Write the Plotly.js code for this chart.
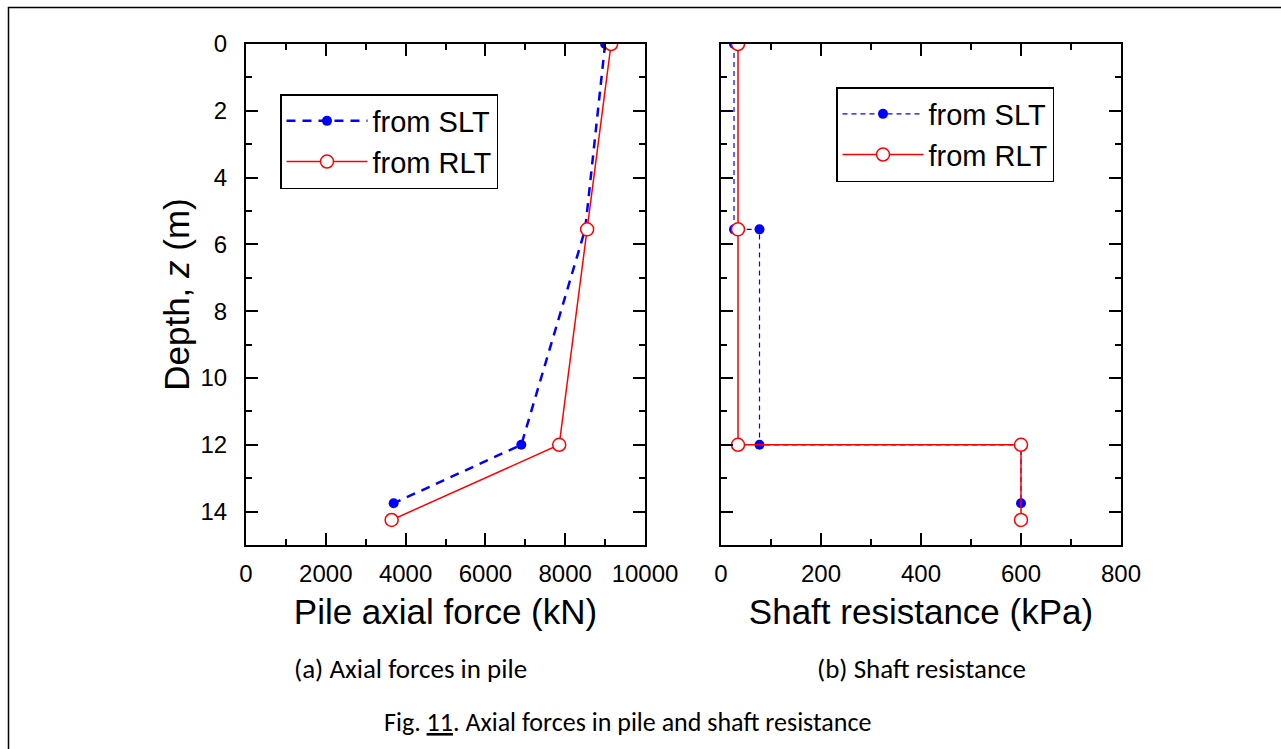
<!DOCTYPE html>
<html>
<head>
<meta charset="utf-8">
<script src="https://cdn.plot.ly/plotly-3.0.1.min.js"></script>
<style>
html,body{margin:0;padding:0;background:#fff;}
#chart{width:1281px;height:749px;}
</style>
</head>
<body>
<div id="chart"></div>
<script>
// ---- Data ----
// (a) Pile axial force vs depth
const slt_force_depth = [0, 5.55, 12, 13.75];
const slt_force = [9000, 8500, 6900, 3700];
const rlt_force_depth = [0, 5.55, 12, 14.25];
const rlt_force = [9150, 8550, 7850, 3650];

// (b) Shaft resistance vs depth (step profile corners)
const slt_shaft_depth = [0, 5.55, 5.55, 12, 12, 13.75];
const slt_shaft = [26, 26, 77, 77, 600, 600];
const rlt_shaft_depth = [0, 5.55, 12, 12, 14.25];
const rlt_shaft = [34, 34, 34, 600, 600];

const seriesNames = ['from SLT', 'from RLT'];
const depthTicks = [0, 2, 4, 6, 8, 10, 12, 14];
const forceTicks = [0, 2000, 4000, 6000, 8000, 10000];
const shaftTicks = [0, 200, 400, 600, 800];

// ---- Styling ----
const FONT = 'Arial, "Liberation Sans", sans-serif';
const CAP_FONT = 'Carlito, Lato, sans-serif';
const BLUE = '#0000ff';
const RED = '#ff0000';

const traces = [
  {x: slt_force, y: slt_force_depth, xaxis: 'x', yaxis: 'y', name: seriesNames[0],
   mode: 'lines+markers', line: {color: BLUE, width: 2.5, dash: '9px,7px'},
   marker: {color: BLUE, size: 10, symbol: 'circle'}, legend: 'legend'},
  {x: rlt_force, y: rlt_force_depth, xaxis: 'x', yaxis: 'y', name: seriesNames[1],
   mode: 'lines+markers', line: {color: RED, width: 1.5},
   marker: {color: '#ffffff', size: 13, symbol: 'circle', line: {color: RED, width: 1.5}}, legend: 'legend'},
  {x: slt_shaft, y: slt_shaft_depth, xaxis: 'x2', yaxis: 'y2', name: seriesNames[0],
   mode: 'lines+markers', line: {color: BLUE, width: 1.2, dash: '5px,4px'},
   marker: {color: BLUE, size: 10, symbol: 'circle'}, legend: 'legend2'},
  {x: rlt_shaft, y: rlt_shaft_depth, xaxis: 'x2', yaxis: 'y2', name: seriesNames[1],
   mode: 'lines+markers', line: {color: RED, width: 1.5},
   marker: {color: '#ffffff', size: 13, symbol: 'circle', line: {color: RED, width: 1.5}}, legend: 'legend2'}
];

const axBase = {
  showline: true, linecolor: '#000', linewidth: 2, mirror: 'ticks',
  ticks: 'inside', ticklen: 12, tickwidth: 2, tickcolor: '#000',
  showgrid: false, zeroline: false,
  tickfont: {family: FONT, size: 24, color: '#000'},
  tickformat: 'd'
};
const minorX = {ticks: 'inside', ticklen: 6, tickwidth: 2, tickcolor: '#000', showgrid: false};

const L = 246, R = 160, T = 44, B = 204, W = 1281, H = 749;
const pw = W - L - R, ph = H - T - B;
const px = v => (v - L) / pw;
const py = v => (H - B - v) / ph;

const titleFont = {family: FONT, size: 35, color: '#000'};
const legFont = {family: FONT, size: 29, color: '#000'};

const layout = {
  width: W, height: H,
  margin: {l: L, r: R, t: T, b: B},
  paper_bgcolor: '#fff', plot_bgcolor: '#fff',
  font: {family: FONT, color: '#000'},
  xaxis: Object.assign({}, axBase, {
    domain: [0, px(645)], anchor: 'y', range: [0, 10000],
    tickvals: forceTicks, ticklabelstandoff: 6,
    minor: Object.assign({dtick: 1000, tick0: 0}, minorX),
    title: {text: 'Pile axial force (kN)', font: titleFont, standoff: 14}
  }),
  yaxis: Object.assign({}, axBase, {
    domain: [0, 1], anchor: 'x', range: [15, 0],
    tickvals: depthTicks, ticklabelstandoff: 12,
    minor: Object.assign({dtick: 1, tick0: 0}, minorX),
    title: {text: 'Depth, <i>z</i> (m)\u00A0\u00A0\u00A0', font: titleFont, standoff: 0}
  }),
  xaxis2: Object.assign({}, axBase, {
    domain: [px(721), px(1121)], anchor: 'y2', range: [0, 800],
    tickvals: shaftTicks, ticklabelstandoff: 6,
    minor: Object.assign({dtick: 100, tick0: 0}, minorX),
    title: {text: 'Shaft resistance (kPa)', font: titleFont, standoff: 14}
  }),
  yaxis2: Object.assign({}, axBase, {
    domain: [0, 1], anchor: 'x2', range: [15, 0],
    tickvals: depthTicks, showticklabels: false,
    minor: Object.assign({dtick: 1, tick0: 0}, minorX)
  }),
  legend: {
    x: px(280), y: py(94), xanchor: 'left', yanchor: 'top',
    bgcolor: '#fff', bordercolor: '#000', borderwidth: 1.5,
    font: legFont, itemwidth: 81, tracegroupgap: 0
  },
  legend2: {
    x: px(836), y: py(87), xanchor: 'left', yanchor: 'top',
    bgcolor: '#fff', bordercolor: '#000', borderwidth: 1.5,
    font: legFont, itemwidth: 81, tracegroupgap: 0
  },
  showlegend: true,
  annotations: [
    {text: '(a) Axial forces in pile', xref: 'paper', yref: 'paper', x: px(410), y: py(668),
     xanchor: 'center', yanchor: 'middle', showarrow: false,
     font: {family: CAP_FONT, size: 27, color: '#000'}},
    {text: '(b) Shaft resistance', xref: 'paper', yref: 'paper', x: px(921), y: py(668),
     xanchor: 'center', yanchor: 'middle', showarrow: false,
     font: {family: CAP_FONT, size: 27, color: '#000'}},
    {text: 'Fig. <u>11</u>. Axial forces in pile and shaft resistance', xref: 'paper', yref: 'paper',
     x: px(627), y: py(722), xanchor: 'center', yanchor: 'middle', showarrow: false,
     font: {family: CAP_FONT, size: 26, color: '#000'}}
  ],
  shapes: [
    {type: 'rect', xref: 'paper', yref: 'paper', x0: px(8.5), x1: px(1400), y0: py(900), y1: py(7.5),
     line: {color: '#000', width: 1.5}, fillcolor: 'rgba(0,0,0,0)', layer: 'below'}
  ]
};

Plotly.newPlot('chart', traces, layout, {staticPlot: true, displayModeBar: false});
</script>
</body>
</html>
